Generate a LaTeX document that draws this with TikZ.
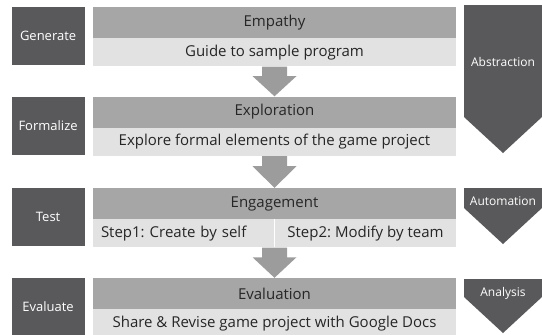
\documentclass[tikz,border=0pt]{standalone}
\usepackage{fontspec}
\setmainfont{Open Sans}
\frenchspacing
\usetikzlibrary{calc,positioning}
\definecolor{dark}{HTML}{59595B}
\definecolor{head}{HTML}{A6A6A6}
\definecolor{sub}{HTML}{E2E2E2}
\definecolor{flow}{HTML}{9C9C9C}
\tikzset{
  phase/.style={fill=dark, text=white, font=\fontsize{13}{15}\selectfont,
    minimum width=73pt, minimum height=58pt, inner sep=0pt},
  headbox/.style={fill=head, text=black!85, font=\fontsize{15}{17}\selectfont,
    minimum width=363pt, minimum height=31pt, inner sep=0pt},
  subbox/.style={fill=sub, text=black!85, font=\fontsize{15}{17}\selectfont,
    minimum width=363pt, minimum height=28pt, inner sep=0pt},
  halfbox/.style={subbox, minimum width=181pt},
  skill/.style={fill=dark},
  skilltext/.style={text=white, font=\fontsize{12}{14}\selectfont, inner sep=0pt}
}
\newcommand{\FlowArrow}[2]{%
  % #1 = start point (bottom of upper box), #2 = end point (top of lower box)
  \fill[flow] let \p1=(#1), \p2=(#2) in
    ($(\x1,\y1)+(-12.5pt,0)$) -- ($(\x1,\y1)+(12.5pt,0)$)
    -- ($(\x1,\y1)!0.32!(\x1,\y2)+(12.5pt,0)$) -- ($(\x1,\y1)!0.32!(\x1,\y2)+(22pt,0)$)
    -- (\x1,\y2)
    -- ($(\x1,\y1)!0.32!(\x1,\y2)+(-22pt,0)$) -- ($(\x1,\y1)!0.32!(\x1,\y2)+(-12.5pt,0)$)
    -- cycle;
}
\newcommand{\SkillArrow}[6]{%
  % #1 = name, #2 = top, #3 = neck, #4 = tip, #5 = label y, #6 = label
  \fill[skill] (464,#2) -- (542,#2) -- (542,#3) -- (503,#4) -- (464,#3) -- cycle;
  \node[skilltext] (#1) at (503,#5) {#6};
}

\begin{document}
\begin{tikzpicture}[x=1pt, y=-1pt]
  \useasboundingbox (0,0) rectangle (542,335);
  % middle column
  \node[headbox] (emp) at (274.5,22.5) {Empathy};
  \node[subbox, below=0pt of emp] (empsub) {Guide to sample program};
  \node[headbox] (exp) at (274.5,112) {Exploration};
  \node[subbox, below=0pt of exp] (expsub) {Explore formal elements of the game project};
  \node[headbox] (eng) at (274.5,203.5) {Engagement};
  \node[halfbox, anchor=north west, text width=165pt, align=left] (engself) at (eng.south west) {Step1: Create by self};
  \node[halfbox, anchor=north east] (engteam) at (eng.south east) {Step2: Modify by team};
  \node[headbox] (eva) at (274.5,293.5) {Evaluation};
  \node[subbox, below=0pt of eva] (evasub) {Share \& Revise game project with Google Docs};
  % left column
  \node[phase, anchor=north east] (gen) at ($(emp.north west)+(-8,0)$) {Generate};
  \node[phase, anchor=north east] (form) at ($(exp.north west)+(-8,0)$) {Formalize};
  \node[phase, anchor=north east] (test) at ($(eng.north west)+(-8,0)$) {Test};
  \node[phase, anchor=north east] (eval) at ($(eva.north west)+(-8,0)$) {Evaluate};
  % flow
  \FlowArrow{empsub.south}{exp.north}
  \FlowArrow{expsub.south}{eng.north}
  \FlowArrow{eng.south |- engself.south}{eva.north}
  % right column
  \SkillArrow{abs}{5}{117}{153}{62}{Abstraction}
  \SkillArrow{auto}{188}{208}{244}{201}{Automation}
  \SkillArrow{ana}{279}{297}{333}{293}{Analysis}
\end{tikzpicture}
\end{document}
